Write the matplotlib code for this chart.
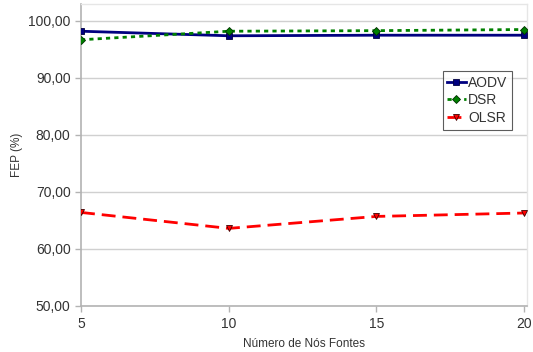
import matplotlib
matplotlib.use("Agg")
import matplotlib.pyplot as plt
from matplotlib.ticker import FuncFormatter

plt.rcParams['font.family'] = ['Liberation Sans', 'DejaVu Sans']

fontes = [5, 10, 15, 20]
aodv = [98.2, 97.4, 97.5, 97.5]
dsr = [96.7, 98.2, 98.3, 98.5]
olsr = [66.4, 63.6, 65.7, 66.3]

fig = plt.figure(figsize=(5.33, 3.52), dpi=100)
ax = fig.add_axes([0.152, 0.131, 0.837, 0.858])

ax.plot(fontes, aodv, color='#000080', lw=2, marker='s', ms=5,
        mec='#000040', mew=0.6, label='AODV', zorder=3)
ax.plot(fontes, dsr, color='#008000', lw=2, ls=(0, (1.5, 1.5)), marker='D', ms=4,
        mec='#003000', mew=0.6, label='DSR', zorder=3)
ax.plot(fontes, olsr, color='#ff0000', lw=2, ls=(0, (5, 2.5)), marker='v', ms=5,
        mec='#400000', mew=0.6, label='OLSR', zorder=3)

ax.set_xlim(5, 20.1)
ax.set_ylim(50, 103)
ax.set_xticks(fontes)
ax.set_yticks([50, 60, 70, 80, 90, 100])
ax.yaxis.set_major_formatter(FuncFormatter(lambda v, p: f"{v:.2f}".replace('.', ',')))
ax.grid(axis='y', color='#d0d0d0', lw=1)
ax.set_axisbelow(True)

for side in ['left', 'bottom']:
    ax.spines[side].set_color('#b3b3b3')
    ax.spines[side].set_linewidth(1.2)
for side in ['top', 'right']:
    ax.spines[side].set_color('#e6e6e6')
    ax.spines[side].set_linewidth(1)

ax.tick_params(axis='both', colors='#b3b3b3', labelcolor='#333333', labelsize=10,
               length=4, width=1)
ax.tick_params(axis='x', pad=4)

ax.set_xlabel('Número de Nós Fontes', fontsize=8.5, color='#333333', labelpad=5)
ax.set_ylabel('FEP (%)', fontsize=8.5, color='#333333', labelpad=4)

leg = ax.legend(loc='upper right', bbox_to_anchor=(0.967, 0.778), fontsize=10,
                frameon=True, fancybox=False, handlelength=1.3, handletextpad=0.2,
                borderpad=0.35, labelspacing=0.25, borderaxespad=0)
leg.get_frame().set_edgecolor('#333333')
leg.get_frame().set_linewidth(0.8)
for t in leg.get_texts():
    t.set_color('#333333')

fig.savefig('out.png', dpi=100)
